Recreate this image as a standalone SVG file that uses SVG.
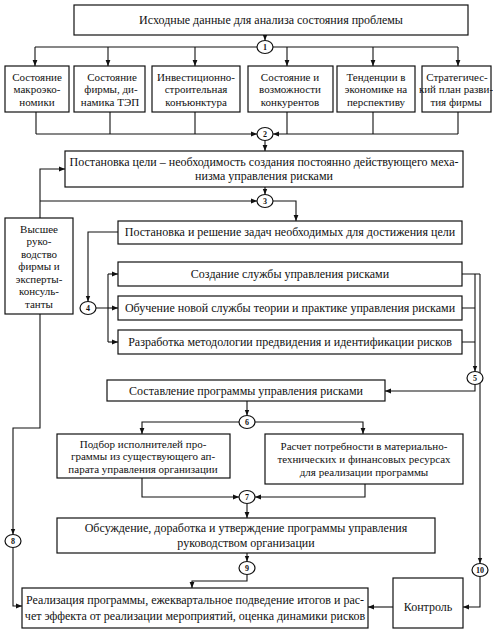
<svg xmlns="http://www.w3.org/2000/svg" width="493" height="637" viewBox="0 0 493 637">
<style>
.b{fill:#fff;stroke:#111;stroke-width:1.2}
.t{font-family:"Liberation Serif","Times New Roman",serif;font-size:12px;fill:#111;text-anchor:middle}
.s{font-size:11px}
.n{font-family:"Liberation Serif","Times New Roman",serif;font-size:8px;font-weight:bold;fill:#111;text-anchor:middle}
.c{fill:#fff;stroke:#111;stroke-width:1.2}
.l{fill:none;stroke:#111;stroke-width:1.1}
.a{fill:none;stroke:#111;stroke-width:1.1;marker-end:url(#ar)}
</style>
<defs>
<marker id="ar" viewBox="0 0 10 10" refX="10" refY="5" markerWidth="6" markerHeight="6" orient="auto" markerUnits="userSpaceOnUse"><path d="M0,1 L10,5 L0,9 z" fill="#111"/></marker>
</defs>
<rect width="493" height="637" fill="#fff"/>
<g id="connectors">
<path class="a" d="M265,35 V40.5"/>
<path class="l" d="M35,47 H257 M273,47 H458"/>
<path class="a" d="M35,47 V66"/>
<path class="a" d="M108,47 V66"/>
<path class="a" d="M195,47 V66"/>
<path class="a" d="M287,47 V66"/>
<path class="a" d="M373,47 V66"/>
<path class="a" d="M458,47 V66"/>
<path class="l" d="M36,112 V134 M110,112 V134 M195,112 V134 M287,112 V134 M373,112 V134 M458,112 V134"/>
<path class="a" d="M36,134 H257"/>
<path class="a" d="M458,134 H273"/>
<path class="a" d="M265,140.5 V151"/>
<path class="a" d="M265,187 V194.5"/>
<path class="a" d="M273,201 H296 V221"/>
<path class="a" d="M40,218 V169 H65"/>
<path class="a" d="M40,201 H257"/>
<path class="a" d="M118,232 H88 V301.5"/>
<path class="l" d="M96,308 H108 M108,274 V342"/>
<path class="a" d="M108,274 H118"/>
<path class="a" d="M108,308 H118"/>
<path class="a" d="M108,342 H118"/>
<path class="l" d="M462,274 H480 M462,308 H475 M462,342 H475"/>
<path class="a" d="M475,274 V371.5"/>
<path class="a" d="M480,274 V563.5"/>
<path class="a" d="M475,384.5 V391 H385"/>
<path class="a" d="M247,401 V415.5"/>
<path class="a" d="M239,422 H142 V434"/>
<path class="a" d="M255,422 H363 V434"/>
<path class="a" d="M142,478 V497 H239"/>
<path class="a" d="M365,484 V497 H255"/>
<path class="a" d="M247,503.5 V518"/>
<path class="a" d="M247,553 V561.5"/>
<path class="a" d="M247,574.5 V581 H192 V588"/>
<path class="a" d="M393,607 H368"/>
<path class="a" d="M480,576.5 V607 H463"/>
<path class="a" d="M40,314 V428 H13 V534.5"/>
<path class="a" d="M13,547.5 V606 H22"/>
</g>
<g id="n-top"><rect class="b" x="74" y="5" width="394" height="30"/><text class="t" x="271" y="24">Исходные данные для анализа состояния проблемы</text></g>
<g id="c1"><ellipse class="c" cx="265" cy="47" rx="8" ry="6.5"/><text class="n" x="265" y="50">1</text></g>
<g id="n-r1"><rect class="b" x="5" y="66" width="64" height="46"/><text class="t s"><tspan x="37" y="80.5">Состояние</tspan><tspan x="37" y="93">макроэко-</tspan><tspan x="37" y="105.5">номики</tspan></text></g>
<g id="n-r2"><rect class="b" x="74" y="66" width="71" height="46"/><text class="t s"><tspan x="112" y="80.5">Состояние</tspan><tspan x="111" y="93">фирмы, ди-</tspan><tspan x="110" y="105.5">намика ТЭП</tspan></text></g>
<g id="n-r3"><rect class="b" x="152" y="66" width="88" height="46"/><text class="t s"><tspan x="196" y="80.5">Инвестиционно-</tspan><tspan x="196" y="93">строительная</tspan><tspan x="196" y="105.5">конъюнктура</tspan></text></g>
<g id="n-r4"><rect class="b" x="248" y="66" width="85" height="46"/><text class="t s"><tspan x="290" y="80.5">Состояние и</tspan><tspan x="290" y="93">возможности</tspan><tspan x="290" y="105.5">конкурентов</tspan></text></g>
<g id="n-r5"><rect class="b" x="337" y="66" width="78" height="46"/><text class="t s"><tspan x="376" y="80.5">Тенденции в</tspan><tspan x="376" y="93">экономике на</tspan><tspan x="376" y="105.5">перспективу</tspan></text></g>
<g id="n-r6"><rect class="b" x="422" y="66" width="69" height="46"/><text class="t s"><tspan x="457" y="80.5">Стратегичес-</tspan><tspan x="456" y="93">кий план разви-</tspan><tspan x="456" y="105.5">тия фирмы</tspan></text></g>
<g id="c2"><ellipse class="c" cx="265" cy="134" rx="8" ry="6.5"/><text class="n" x="265" y="137">2</text></g>
<g id="n-goal"><rect class="b" x="65" y="151" width="398" height="36"/><text class="t"><tspan x="264" y="166">Постановка цели – необходимость создания постоянно действующего меха-</tspan><tspan x="264" y="180">низма управления рисками</tspan></text></g>
<g id="c3"><ellipse class="c" cx="265" cy="201" rx="8" ry="6.5"/><text class="n" x="265" y="204">3</text></g>
<g id="n-top-mgmt"><rect class="b" x="5" y="218" width="68" height="96"/><text class="t s"><tspan x="39" y="232.5">Высшее</tspan><tspan x="39" y="245">руко-</tspan><tspan x="39" y="257.5">водство</tspan><tspan x="39" y="270">фирмы и</tspan><tspan x="39" y="282.5">эксперты-</tspan><tspan x="39" y="295">консуль-</tspan><tspan x="39" y="307.5">танты</tspan></text></g>
<g id="n-tasks"><rect class="b" x="118" y="221" width="344" height="23"/><text class="t" x="290" y="236">Постановка и решение задач необходимых для достижения цели</text></g>
<g id="c4"><ellipse class="c" cx="88" cy="308" rx="8" ry="6.5"/><text class="n" x="88" y="311">4</text></g>
<g id="n-create"><rect class="b" x="118" y="262" width="344" height="24"/><text class="t" x="290" y="278">Создание службы управления рисками</text></g>
<g id="n-train"><rect class="b" x="118" y="296" width="344" height="24"/><text class="t" x="290" y="312">Обучение новой службы теории и практике управления рисками</text></g>
<g id="n-method"><rect class="b" x="118" y="330" width="344" height="24"/><text class="t" x="290" y="346">Разработка методологии предвидения и идентификации рисков</text></g>
<g id="c5"><ellipse class="c" cx="475" cy="378" rx="8" ry="6.5"/><text class="n" x="475" y="381">5</text></g>
<g id="n-program"><rect class="b" x="107" y="380" width="278" height="21"/><text class="t" x="246" y="395">Составление программы управления рисками</text></g>
<g id="c6"><ellipse class="c" cx="247" cy="422" rx="8" ry="6.5"/><text class="n" x="247" y="425">6</text></g>
<g id="n-staff"><rect class="b" x="57" y="434" width="173" height="44"/><text class="t s"><tspan x="143" y="447.5">Подбор исполнителей про-</tspan><tspan x="143" y="460">граммы из существующего ап-</tspan><tspan x="143" y="472.5">парата управления организации</tspan></text></g>
<g id="n-resources"><rect class="b" x="265" y="434" width="198" height="50"/><text class="t s"><tspan x="364" y="450">Расчет потребности в материально-</tspan><tspan x="364" y="463">технических и финансовых ресурсах</tspan><tspan x="364" y="476">для реализации программы</tspan></text></g>
<g id="c7"><ellipse class="c" cx="247" cy="497" rx="8" ry="6.5"/><text class="n" x="247" y="500">7</text></g>
<g id="n-approve"><rect class="b" x="57" y="518" width="378" height="35"/><text class="t"><tspan x="246" y="532">Обсуждение, доработка и утверждение программы управления</tspan><tspan x="246" y="547">руководством организации</tspan></text></g>
<g id="c8"><ellipse class="c" cx="13" cy="541" rx="8" ry="6.5"/><text class="n" x="13" y="544">8</text></g>
<g id="c9"><ellipse class="c" cx="247" cy="568" rx="8" ry="6.5"/><text class="n" x="247" y="571">9</text></g>
<g id="c10"><ellipse class="c" cx="480" cy="570" rx="8" ry="6.5"/><text class="n" x="480" y="573">10</text></g>
<g id="n-impl"><rect class="b" x="22" y="588" width="346" height="40"/><text class="t"><tspan x="195" y="604">Реализация программы, ежеквартальное подведение итогов и рас-</tspan><tspan x="195" y="620">чет эффекта от реализации мероприятий, оценка динамики рисков</tspan></text></g>
<g id="n-control"><rect class="b" x="393" y="578" width="70" height="50"/><text class="t" x="428" y="611">Контроль</text></g>
</svg>
